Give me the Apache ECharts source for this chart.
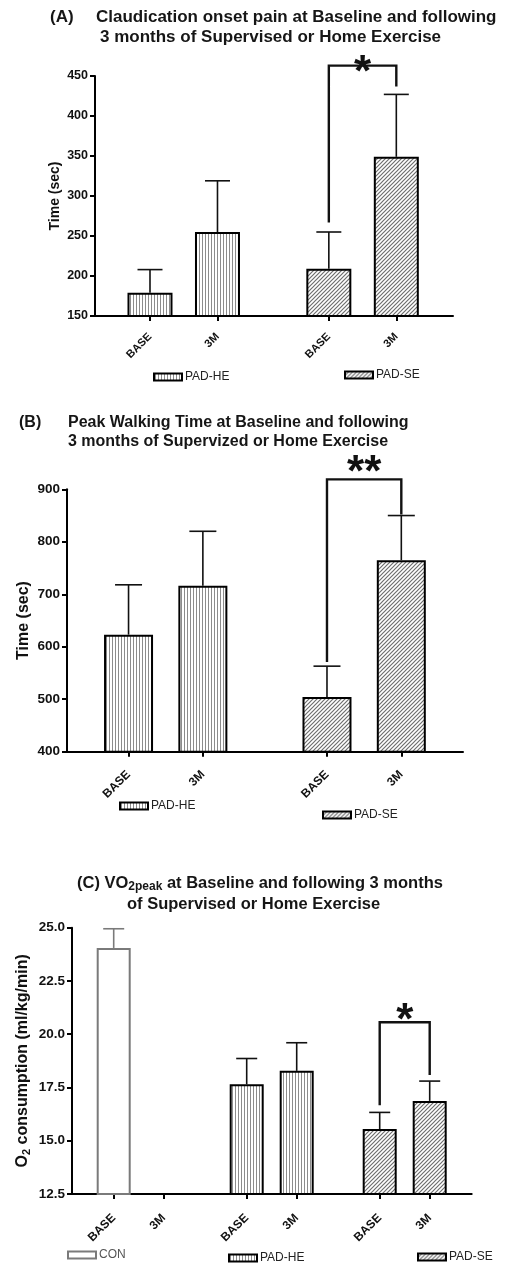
<!DOCTYPE html>
<html><head><meta charset="utf-8">
<script src="https://cdn.jsdelivr.net/npm/echarts@6/dist/echarts.min.js"></script>
<style>html,body{margin:0;padding:0;background:#fff}#c{width:505px;height:1268px}</style>
</head><body><div id="c"></div>
<script>
// ---------------- DATA ----------------
const timepoints = ['BASE', '3M'];
// Panel A: Claudication onset pain (sec)
const A_groups = ['PAD-HE', 'PAD-SE'];
const A_HE_mean = [179, 255];
const A_HE_upper = [208, 319];
const A_SE_mean = [209, 349];
const A_SE_upper = [255, 427];
const A_yTicks = [150, 450, 50];
const A_sig = { text: '*', top: 463, left: 267, right: 437 };
// Panel B: Peak walking time (sec)
const B_groups = ['PAD-HE', 'PAD-SE'];
const B_HE_mean = [623, 716];
const B_HE_upper = [718, 820];
const B_SE_mean = [504, 765];
const B_SE_upper = [563, 850];
const B_yTicks = [400, 900, 100];
const B_sig = { text: '**', top: 919, left: 571, right: 852 };
// Panel C: VO2peak (ml/kg/min)
const C_groups = ['CON', 'PAD-HE', 'PAD-SE'];
const C_CON_mean = [24.05, null];
const C_CON_upper = [24.95, null];
const C_HE_mean = [17.65, 18.28];
const C_HE_upper = [18.86, 19.6];
const C_SE_mean = [15.55, 16.87];
const C_SE_upper = [16.33, 17.8];
const C_yTicks = [12.5, 25, 2.5];
const C_sig = { text: '*', top: 20.56, left: 16.67, right: 18.08 };

// ---------------- STYLE / LAYOUT ----------------
const FONT = '"Liberation Sans", Arial, Helvetica, sans-serif';
function stripePattern() {
  const c = document.createElement('canvas'); c.width = 3; c.height = 3;
  const g = c.getContext('2d');
  g.fillStyle = '#fff'; g.fillRect(0, 0, 3, 3);
  g.fillStyle = '#8c8c8c'; g.fillRect(1, 0, 1, 3);
  return c;
}
function diagPattern() {
  const s = 4;
  const c = document.createElement('canvas'); c.width = s; c.height = s;
  const g = c.getContext('2d');
  g.fillStyle = '#fff'; g.fillRect(0, 0, s, s);
  g.strokeStyle = '#6e6e6e'; g.lineWidth = 1.2;
  g.beginPath();
  g.moveTo(-1, s + 1); g.lineTo(s + 1, -1);
  g.moveTo(-1, 1); g.lineTo(1, -1);
  g.moveTo(s - 1, s + 1); g.lineTo(s + 1, s - 1);
  g.stroke();
  return c;
}
const FILLS = {
  'CON': { color: '#fff', border: '#7a7a7a', text: '#555' },
  'PAD-HE': { color: { image: stripePattern(), repeat: 'repeat' }, border: '#000', text: '#222' },
  'PAD-SE': { color: { image: diagPattern(), repeat: 'repeat' }, border: '#000', text: '#222' }
};

const panels = [
  { grid: { left: 95, top: 76, width: 358, height: 240 }, xMin: -0.815, xMax: 4.49, gap: 0.65,
    yt: A_yTicks, dec: 0, barW: 45, cap: 25, labelMargin: 19, labelSize: 11, tickSize: 12.5,
    yName: 'Time (sec)', yNameGap: 33, yNameSize: 14,
    groups: [{ name: A_groups[0], mean: A_HE_mean, upper: A_HE_upper }, { name: A_groups[1], mean: A_SE_mean, upper: A_SE_upper }],
    sig: A_sig, sigGroup: 1, starSize: 44, starDy: -8 },
  { grid: { left: 67, top: 489.3, width: 396, height: 262.4 }, xMin: -0.828, xMax: 4.5, gap: 0.67,
    yt: B_yTicks, dec: 0, barW: 49, cap: 27, labelMargin: 21, labelSize: 12, tickSize: 13.5,
    yName: 'Time (sec)', yNameGap: 35, yNameSize: 16,
    groups: [{ name: B_groups[0], mean: B_HE_mean, upper: B_HE_upper }, { name: B_groups[1], mean: B_SE_mean, upper: B_SE_upper }],
    sig: B_sig, sigGroup: 1, starSize: 44, starDy: 5 },
  { grid: { left: 72, top: 927.7, width: 399.7, height: 266.3 }, xMin: -0.834, xMax: 7.16, gap: 0.66,
    yt: C_yTicks, dec: 1, barW: 34, cap: 21, labelMargin: 22, labelSize: 12, tickSize: 13.5,
    yName: '{b|O}{s|2}{b| consumption (ml/kg/min)}', yNameGap: 40, yNameSize: 16,
    groups: [{ name: C_groups[0], mean: C_CON_mean, upper: C_CON_upper }, { name: C_groups[1], mean: C_HE_mean, upper: C_HE_upper }, { name: C_groups[2], mean: C_SE_mean, upper: C_SE_upper }],
    sig: C_sig, sigGroup: 2, starSize: 44, starDy: 0 }
];

const grids = [], xAxes = [], yAxes = [], series = [];
panels.forEach((p, k) => {
  const posOf = (g, i) => g * (2 + p.gap) + i;
  const tickPos = [], tickNames = [];
  p.groups.forEach((gr, g) => timepoints.forEach((t, i) => { tickPos.push(posOf(g, i)); tickNames.push(t); }));
  grids.push(Object.assign({ containLabel: false }, p.grid));
  xAxes.push({
    type: 'value', gridIndex: k, min: p.xMin, max: p.xMax,
    axisLine: { show: true, onZero: false, lineStyle: { color: '#000', width: 2 } },
    axisTick: { show: true, customValues: tickPos, length: 5, lineStyle: { color: '#000', width: 2 } },
    splitLine: { show: false },
    axisLabel: {
      customValues: tickPos, rotate: 45, margin: p.labelMargin,
      fontFamily: FONT, fontSize: p.labelSize, fontWeight: 'bold', color: '#111',
      formatter: v => { const i = tickPos.findIndex(q => Math.abs(q - v) < 1e-6); return i >= 0 ? tickNames[i] : ''; }
    }
  });
  yAxes.push({
    type: 'value', gridIndex: k, min: p.yt[0], max: p.yt[1], interval: p.yt[2],
    axisLine: { show: true, onZero: false, lineStyle: { color: '#000', width: 2 } },
    axisTick: { show: true, length: 5, lineStyle: { color: '#000', width: 2 } },
    splitLine: { show: false },
    axisLabel: { fontFamily: FONT, fontSize: p.tickSize, fontWeight: 'bold', color: '#111', margin: 7,
      formatter: v => v.toFixed(p.dec) },
    name: p.yName, nameLocation: 'middle', nameGap: p.yNameGap, nameRotate: 90, nameMoveOverlap: false,
    nameTextStyle: { fontFamily: FONT, fontSize: p.yNameSize, fontWeight: 'bold', color: '#111',
      rich: { b: { fontFamily: FONT, fontSize: p.yNameSize, fontWeight: 'bold', color: '#111' },
              s: { fontFamily: FONT, fontSize: 11, fontWeight: 'bold', color: '#111', padding: [7, 0, 0, 0] } } }
  });
  p.groups.forEach((gr, g) => {
    const f = FILLS[gr.name];
    series.push({
      type: 'bar', name: gr.name, xAxisIndex: k, yAxisIndex: k, barWidth: p.barW, barGap: '-100%',
      clip: true, z: 2,
      itemStyle: { color: f.color, borderColor: f.border, borderWidth: 2 },
      data: gr.mean.map((v, i) => [posOf(g, i), v == null ? '-' : v])
    });
    series.push({
      type: 'custom', name: gr.name + ' err', xAxisIndex: k, yAxisIndex: k, z: 1, silent: true,
      encode: { x: 0, y: [1, 2] },
      data: gr.mean.map((v, i) => v == null ? null : [posOf(g, i), v, gr.upper[i]]).filter(d => d),
      renderItem: (params, api) => {
        const x = api.value(0), m = api.value(1), u = api.value(2);
        const a = api.coord([x, m]), b = api.coord([x, u]);
        const st = { stroke: f.border === '#000' ? '#111' : f.border, lineWidth: 1.6 };
        return { type: 'group', children: [
          { type: 'line', shape: { x1: a[0], y1: a[1], x2: b[0], y2: b[1] }, style: st },
          { type: 'line', shape: { x1: b[0] - p.cap / 2, y1: b[1], x2: b[0] + p.cap / 2, y2: b[1] }, style: st }
        ] };
      }
    });
  });
  const s = p.sig, g = p.sigGroup;
  series.push({
    type: 'custom', name: 'sig' + k, xAxisIndex: k, yAxisIndex: k, z: 3, silent: true, clip: false,
    encode: { x: [0, 1], y: [2, 3, 4] },
    data: [[posOf(g, 0), posOf(g, 1), s.top, s.left, s.right]],
    renderItem: (params, api) => {
      const x1 = api.value(0), x2 = api.value(1);
      const t = api.coord([x1, api.value(2)]), l = api.coord([x1, api.value(3)]);
      const t2 = api.coord([x2, api.value(2)]), r = api.coord([x2, api.value(4)]);
      return { type: 'group', children: [
        { type: 'polyline', shape: { points: [l, t, t2, r] }, style: { stroke: '#111', lineWidth: 2.4, fill: null } },
        { type: 'text', x: (t[0] + t2[0]) / 2, y: t[1] - p.starDy,
          style: { text: s.text, fontFamily: FONT, fontSize: p.starSize, fontWeight: 'bold', fill: '#111',
            align: 'center', verticalAlign: 'middle', padding: [Math.round(p.starSize * 0.35), 0, 0, 0] } }
      ] };
    }
  });
});

function legendAt(name, left, top) {
  const f = FILLS[name];
  return { data: [name], left: left, top: top, padding: 0, itemWidth: 28, itemHeight: 7, icon: 'rect',
    selectedMode: false, itemGap: 0,
    itemStyle: { borderColor: f.border, borderWidth: 2 },
    textStyle: { fontFamily: FONT, fontSize: 12, color: f.text, padding: [0, 0, 0, -2] } };
}
const legends = [
  legendAt('PAD-HE', 153, 371), legendAt('PAD-SE', 344, 369),
  legendAt('PAD-HE', 119, 800), legendAt('PAD-SE', 322, 809),
  legendAt('CON', 67, 1249), legendAt('PAD-HE', 228, 1252), legendAt('PAD-SE', 417, 1251)
];

function title(text, x, y, size, extra) {
  return { type: 'text', x: x, y: y, silent: true,
    style: Object.assign({ text: text, fontFamily: FONT, fontSize: size, fontWeight: 'bold', fill: '#161616', verticalAlign: 'middle' }, extra || {}) };
}
const graphics = [
  title('(A)', 50, 17, 17),
  title('Claudication onset pain at Baseline and following', 96, 17, 17),
  title('3 months of Supervised or Home Exercise', 100, 37, 17),
  title('(B)', 19, 423, 16),
  title('Peak Walking Time at Baseline and following', 68, 423, 16),
  title('3 months of Supervized or Home Exercise', 68, 442, 16),
  title('(C) VO{s|2peak} at Baseline and following 3 months', 77, 883, 16.5,
    { rich: { s: { fontFamily: FONT, fontSize: 12, fontWeight: 'bold', fill: '#161616', padding: [8, 0, 0, 0] } } }),
  title('of Supervised or Home Exercise', 127, 904, 16.5)
];

const chart = echarts.init(document.getElementById('c'), null, { renderer: 'canvas' });
chart.setOption({
  animation: false,
  backgroundColor: '#fff',
  grid: grids, xAxis: xAxes, yAxis: yAxes, series: series,
  legend: legends,
  graphic: graphics
});
</script></body></html>
